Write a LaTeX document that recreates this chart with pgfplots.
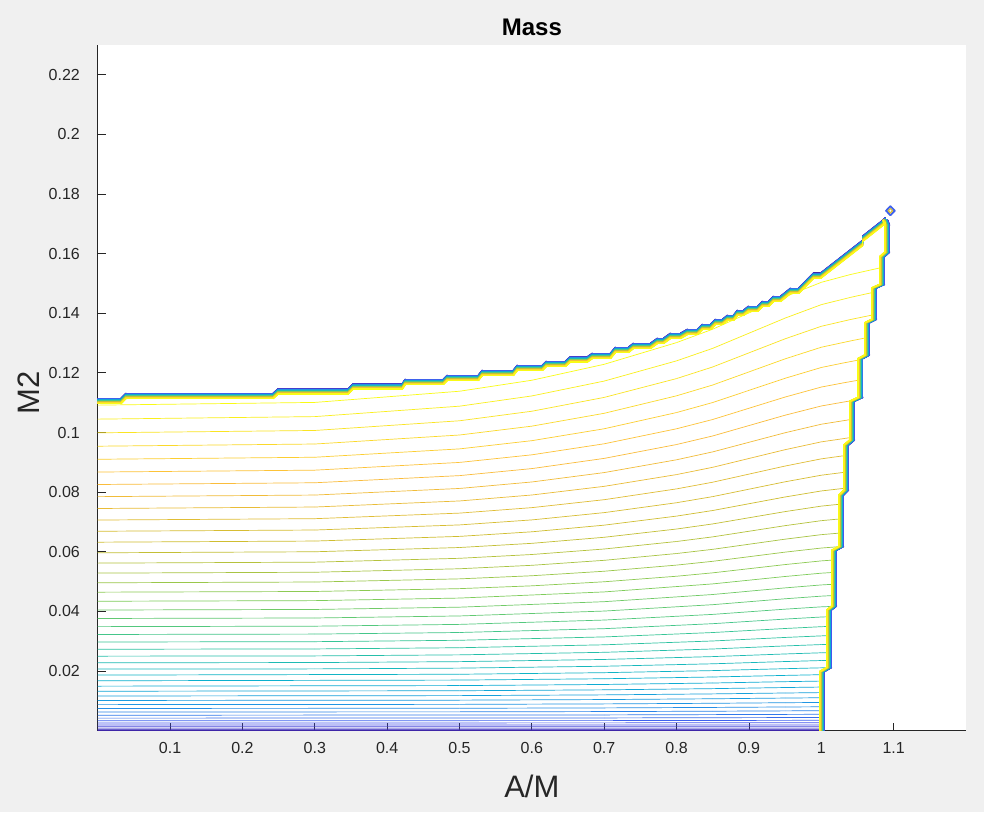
\documentclass[border=0pt]{standalone}
\usepackage{fontspec}
\setmainfont{Liberation Sans}
\usepackage{pgfplots}
\pgfplotsset{compat=1.18}
\usepackage{pgfplotstable}
\definecolor{figbg}{RGB}{240,240,240}
\definecolor{axgray}{RGB}{38,38,38}

% right boundary (bottom -> tip)
\pgfplotstableread{
x y
1.0010 0.0000
1.0010 0.0198
1.0108 0.0212
1.0108 0.0405
1.0177 0.0418
1.0177 0.0605
1.0274 0.0618
1.0274 0.0790
1.0343 0.0807
1.0343 0.0958
1.0426 0.0975
1.0426 0.1105
1.0540 0.1118
1.0540 0.1248
1.0633 0.1260
1.0633 0.1368
1.0730 0.1380
1.0730 0.1485
1.0840 0.1497
1.0840 0.1590
1.0910 0.1605
1.0910 0.1695
1.0885 0.1712
}\Rtab

% top boundary (tip -> left edge)
\pgfplotstableread{
x y
1.0885 0.1712
1.0848 0.1703
1.0571 0.1650
1.0571 0.1636
0.9990 0.1526
0.9893 0.1526
0.9686 0.14752
0.9575 0.14752
0.9437 0.14483
0.9340 0.14483
0.9271 0.14315
0.9188 0.14315
0.9119 0.14148
0.8994 0.14148
0.8925 0.14013
0.8842 0.14013
0.8787 0.13846
0.8704 0.13846
0.8635 0.13711
0.8538 0.13711
0.8469 0.13544
0.8358 0.13544
0.8289 0.13376
0.8151 0.13376
0.8054 0.13242
0.7916 0.13242
0.7819 0.13074
0.7736 0.13074
0.7639 0.12906
0.7404 0.12906
0.7335 0.12772
0.7155 0.12772
0.7086 0.12570
0.6837 0.12570
0.6767 0.12453
0.6532 0.12453
0.6463 0.12302
0.6200 0.12302
0.6145 0.12168
0.5799 0.12168
0.5744 0.12000
0.5315 0.12000
0.5260 0.11832
0.4831 0.11832
0.4776 0.11698
0.4250 0.11698
0.4209 0.11547
0.3531 0.11547
0.3462 0.11379
0.2494 0.11379
0.2425 0.11228
0.0391 0.11228
0.0322 0.11060
-0.0100 0.11060
}\Ttab

\newcommand{\hl}[2]{\addplot[mesh, point meta=#1, line width=0.7pt] coordinates {#2};}
\newcommand{\bl}[2]{%
\addplot[mesh, point meta=#1, line width=1.4pt, line cap=round,
  y filter/.expression={y+0.0003356*(2.6-5.2*(#1-1)/45)}] table {\Ttab};
\addplot[mesh, point meta=#1, line width=1.4pt, line cap=round,
  skip coords between index={0}{#2},
  x filter/.expression={x+0.001383*(2.4-4.8*(#1-1)/45)}] table {\Rtab};}

\begin{document}
\begin{tikzpicture}
\fill[figbg] (-97.7pt,-81.4pt) rectangle (886.3pt,730.6pt);
\begin{axis}[
  at={(0pt,0pt)}, anchor=south west,
  scale only axis, width=868.3pt, height=685.6pt,
  xmin=0, xmax=1.2, ymin=0, ymax=0.23,
  axis background/.style={fill=white},
  axis x line*=bottom, axis y line*=left,
  axis line style={-, draw=axgray, line width=0.8pt},
  tick align=inside, major tick length=8pt,
  tick style={draw=axgray, line width=0.8pt},
  xtick={0.1,0.2,0.3,0.4,0.5,0.6,0.7,0.8,0.9,1.0,1.1},
  xticklabels={0.1,0.2,0.3,0.4,0.5,0.6,0.7,0.8,0.9,1,1.1},
  ytick={0.02,0.04,0.06,0.08,0.1,0.12,0.14,0.16,0.18,0.2,0.22},
  yticklabels={0.02,0.04,0.06,0.08,0.1,0.12,0.14,0.16,0.18,0.2,0.22},
  tick label style={font=\fontsize{16}{19}\selectfont, text=axgray},
  xticklabel style={anchor=base, yshift=-23pt},
  yticklabel style={anchor=east, inner xsep=0pt, xshift=-17.7pt},
  title={Mass},
  title style={font=\bfseries\fontsize{24}{28}\selectfont, at={(axis description cs:0.5,1.00438)}, anchor=base},
  xlabel={A/M},
  xlabel style={font=\fontsize{31}{36}\selectfont, text=axgray, at={(axis description cs:0.5,-0.09685)}, anchor=base},
  ylabel={M2},
  ylabel style={font=\fontsize{31}{36}\selectfont, text=axgray, at={(axis description cs:-0.06645,0.492)}, anchor=base, rotate=0},
  colormap={parula}{rgb255=(62,38,168) rgb255=(71,82,239) rgb255=(35,145,230) rgb255=(10,176,207) rgb255=(48,196,156) rgb255=(129,204,89) rgb255=(205,189,48) rgb255=(253,188,60) rgb255=(249,251,21)},
  point meta min=1, point meta max=46,
]
% contour lines (level k)
\hl{46}{(0,0.109186)(0.3,0.110096)(0.5,0.113846)(0.6,0.117536)(0.7,0.122886)(0.8,0.130166)(0.85,0.134666)(0.95,0.145546)(1,0.150386)(1.04,0.152986)(1.084,0.155386)}
\hl{45}{(0,0.10449)(0.3,0.105338)(0.5,0.108834)(0.6,0.112273)(0.7,0.11726)(0.8,0.124045)(0.85,0.12824)(0.95,0.138381)(1,0.142893)(1.04,0.145316)(1.073,0.147087)}
\hl{44}{(0,0.099898)(0.3,0.100687)(0.5,0.10394)(0.6,0.107141)(0.7,0.111781)(0.8,0.118096)(0.85,0.121999)(0.95,0.131437)(1,0.135635)(1.04,0.13789)(1.073,0.139538)}
\hl{43}{(0,0.095408)(0.3,0.096141)(0.5,0.099163)(0.6,0.102137)(0.7,0.106449)(0.8,0.112316)(0.85,0.115942)(0.95,0.124711)(1,0.128611)(1.04,0.130706)(1.0633,0.131835)}
\hl{42}{(0,0.091022)(0.3,0.091702)(0.5,0.094505)(0.6,0.097263)(0.7,0.101261)(0.8,0.106702)(0.85,0.110066)(0.95,0.118198)(1,0.121815)(1.03,0.12331)(1.054,0.124431)}
\hl{41}{(0,0.08674)(0.3,0.08737)(0.5,0.089965)(0.6,0.092518)(0.7,0.09622)(0.8,0.101258)(0.85,0.104372)(0.95,0.111901)(1,0.11525)(1.03,0.116634)(1.054,0.11767)}
\hl{40}{(0,0.08256)(0.3,0.083142)(0.5,0.08554)(0.6,0.087899)(0.7,0.09132)(0.8,0.095974)(0.85,0.098852)(0.95,0.105809)(1,0.108903)(1.044,0.11078)}
\hl{39}{(0,0.078484)(0.3,0.079021)(0.5,0.081232)(0.6,0.083408)(0.7,0.086563)(0.8,0.090856)(0.85,0.093509)(0.95,0.099926)(1,0.10278)(1.0426,0.104431)}
\hl{38}{(0,0.07451)(0.3,0.075004)(0.5,0.077038)(0.6,0.079041)(0.7,0.081944)(0.8,0.085894)(0.85,0.088335)(0.95,0.094239)(1,0.096865)(1.02,0.097571)(1.0426,0.098384)}
\hl{37}{(0,0.07064)(0.3,0.071093)(0.5,0.072962)(0.6,0.0748)(0.7,0.077465)(0.8,0.081092)(0.85,0.083334)(0.95,0.088755)(1,0.091166)(1.0343,0.092312)}
\hl{36}{(0,0.066874)(0.3,0.067289)(0.5,0.069001)(0.6,0.070685)(0.7,0.073127)(0.8,0.076449)(0.85,0.078503)(0.95,0.083469)(1,0.085678)(1.0343,0.086727)}
\hl{35}{(0,0.06321)(0.3,0.06359)(0.5,0.065154)(0.6,0.066693)(0.7,0.068924)(0.8,0.071961)(0.85,0.073838)(0.95,0.078376)(1,0.080395)(1.0343,0.081354)}
\hl{34}{(0,0.05965)(0.3,0.059996)(0.5,0.061421)(0.6,0.062824)(0.7,0.064857)(0.8,0.067625)(0.85,0.069335)(0.95,0.073471)(1,0.07531)(1.0274,0.075994)}
\hl{33}{(0,0.056192)(0.3,0.056506)(0.5,0.057802)(0.6,0.059077)(0.7,0.060925)(0.8,0.063441)(0.85,0.064995)(0.95,0.068755)(1,0.070427)(1.0274,0.071049)}
\hl{32}{(0,0.052838)(0.3,0.053123)(0.5,0.054297)(0.6,0.055452)(0.7,0.057127)(0.8,0.059407)(0.85,0.060816)(0.95,0.064222)(1,0.065738)(1.0274,0.066301)}
\hl{31}{(0,0.049588)(0.3,0.049845)(0.5,0.050906)(0.6,0.05195)(0.7,0.053464)(0.8,0.055523)(0.85,0.056796)(0.95,0.059874)(1,0.061243)(1.0274,0.061753)}
\hl{30}{(0,0.04644)(0.3,0.046672)(0.5,0.047627)(0.6,0.048567)(0.7,0.049929)(0.8,0.051784)(0.85,0.05293)(0.95,0.055701)(1,0.056934)(1.0177,0.057239)}
\hl{29}{(0,0.043396)(0.3,0.043604)(0.5,0.044461)(0.7,0.046526)(0.85,0.049218)(0.95,0.051704)(1,0.05281)(1.0177,0.053084)}
\hl{28}{(0,0.040454)(0.3,0.04064)(0.5,0.041406)(0.7,0.043252)(0.85,0.045657)(0.95,0.047879)(1,0.048867)(1.0177,0.049112)}
\hl{27}{(0,0.037616)(0.3,0.037781)(0.5,0.038463)(0.7,0.040107)(0.85,0.042248)(0.95,0.044226)(1,0.045106)(1.0177,0.045324)}
\hl{26}{(0,0.034882)(0.3,0.035029)(0.5,0.035633)(0.7,0.037089)(0.85,0.038987)(0.95,0.04074)(1,0.041519)(1.014,0.04165)}
\hl{25}{(0,0.03225)(0.3,0.032379)(0.5,0.032912)(0.7,0.034197)(0.85,0.035871)(0.95,0.037417)(1,0.038105)(1.0108,0.038204)}
\hl{24}{(0,0.029722)(0.3,0.029835)(0.5,0.030303)(0.7,0.03143)(0.85,0.032899)(0.95,0.034256)(1,0.03486)(1.0108,0.034947)}
\hl{23}{(0,0.027296)(0.3,0.027395)(0.5,0.027803)(0.7,0.028787)(0.85,0.030068)(0.95,0.031252)(1,0.031779)(1.0108,0.031855)}
\hl{22}{(0,0.024974)(0.3,0.02506)(0.5,0.025414)(0.7,0.026267)(0.85,0.027379)(0.95,0.028406)(1,0.028863)(1.0108,0.028929)}
\hl{21}{(0,0.022756)(0.3,0.02283)(0.5,0.023135)(0.7,0.02387)(0.85,0.024828)(0.95,0.025712)(1,0.026106)(1.0108,0.026162)}
\hl{20}{(0,0.02064)(0.3,0.020703)(0.5,0.020964)(0.7,0.021594)(0.85,0.022413)(0.95,0.023171)(1,0.023508)(1.0108,0.023556)}
\hl{19}{(0,0.018628)(0.5,0.018903)(0.7,0.019436)(0.85,0.020131)(0.95,0.020773)(1,0.021059)(1.006,0.02108)}
\hl{18}{(0,0.016718)(0.5,0.016949)(0.7,0.017398)(0.85,0.017982)(0.95,0.018521)(1.001,0.018765)}
\hl{17}{(0,0.014912)(0.5,0.015105)(0.7,0.015479)(0.85,0.015967)(0.95,0.016417)(1.001,0.016618)}
\hl{16}{(0,0.01321)(0.5,0.013369)(0.7,0.013677)(0.85,0.014079)(0.95,0.01445)(1.001,0.014615)}
\hl{15}{(0,0.01161)(0.5,0.011739)(0.7,0.011989)(0.85,0.012316)(0.95,0.012617)(1.001,0.012751)}
\hl{14}{(0,0.010114)(0.5,0.010217)(0.7,0.010418)(0.85,0.01068)(0.95,0.010921)(1.001,0.011029)}
\hl{13}{(0,0.00872)(0.5,0.008802)(0.7,0.00896)(0.85,0.009166)(0.95,0.009356)(1.001,0.009441)}
\hl{12}{(0,0.00743)(0.5,0.007493)(0.7,0.007616)(0.85,0.007777)(0.95,0.007924)(1.001,0.00799)}
\hl{11}{(0,0.006244)(0.5,0.006292)(0.7,0.006385)(0.85,0.006506)(0.95,0.006619)(1.001,0.006668)}
\hl{10}{(0,0.00516)(0.7,0.005264)(0.95,0.005435)(1.001,0.005472)}
\hl{9}{(0,0.00418)(0.7,0.004254)(0.95,0.004376)(1.001,0.004402)}
\hl{8}{(0,0.003302)(0.7,0.003353)(1.001,0.003455)}
\hl{7}{(0,0.002528)(1.001,0.00263)}
\hl{6}{(0,0.001858)(1.001,0.0019)}
\hl{5}{(0,0.00129)(1.001,0.00131)}
\hl{4}{(0,0.000826)(1.001,0.00084)}
\hl{3}{(0,0.000464)(1.001,0.00047)}
\hl{2}{(0,0.000206)(1.001,0.00021)}
\hl{1}{(0,0.0000516)(1.001,0.00005)}
% boundary traces of each level (outer = low level)
\bl{1}{0}\bl{2}{0}\bl{3}{0}\bl{4}{0}\bl{5}{0}\bl{6}{0}\bl{7}{0}\bl{8}{0}\bl{9}{0}\bl{10}{0}
\bl{11}{0}\bl{12}{0}\bl{13}{0}\bl{14}{0}\bl{15}{0}\bl{16}{0}\bl{17}{0}\bl{18}{0}\bl{19}{1}\bl{20}{2}
\bl{21}{2}\bl{22}{2}\bl{23}{2}\bl{24}{2}\bl{25}{2}\bl{26}{3}\bl{27}{4}\bl{28}{4}\bl{29}{4}\bl{30}{4}
\bl{31}{6}\bl{32}{6}\bl{33}{6}\bl{34}{6}\bl{35}{8}\bl{36}{8}\bl{37}{8}\bl{38}{10}\bl{39}{10}\bl{40}{11}
\bl{41}{12}\bl{42}{12}\bl{43}{14}\bl{44}{16}\bl{45}{16}\bl{46}{18}
% isolated small closed contour near the tip
\addplot[mesh, point meta=8, line width=1.8pt, line cap=round] coordinates {(1.0895,0.1744)(1.0955,0.1759)(1.1015,0.1744)(1.0955,0.1729)(1.0895,0.1744)};
\addplot[mesh, point meta=36, line width=1.2pt, line cap=round] coordinates {(1.0925,0.1744)(1.0955,0.17515)(1.0985,0.1744)(1.0955,0.17365)(1.0925,0.1744)};
\end{axis}
\end{tikzpicture}
\end{document}
